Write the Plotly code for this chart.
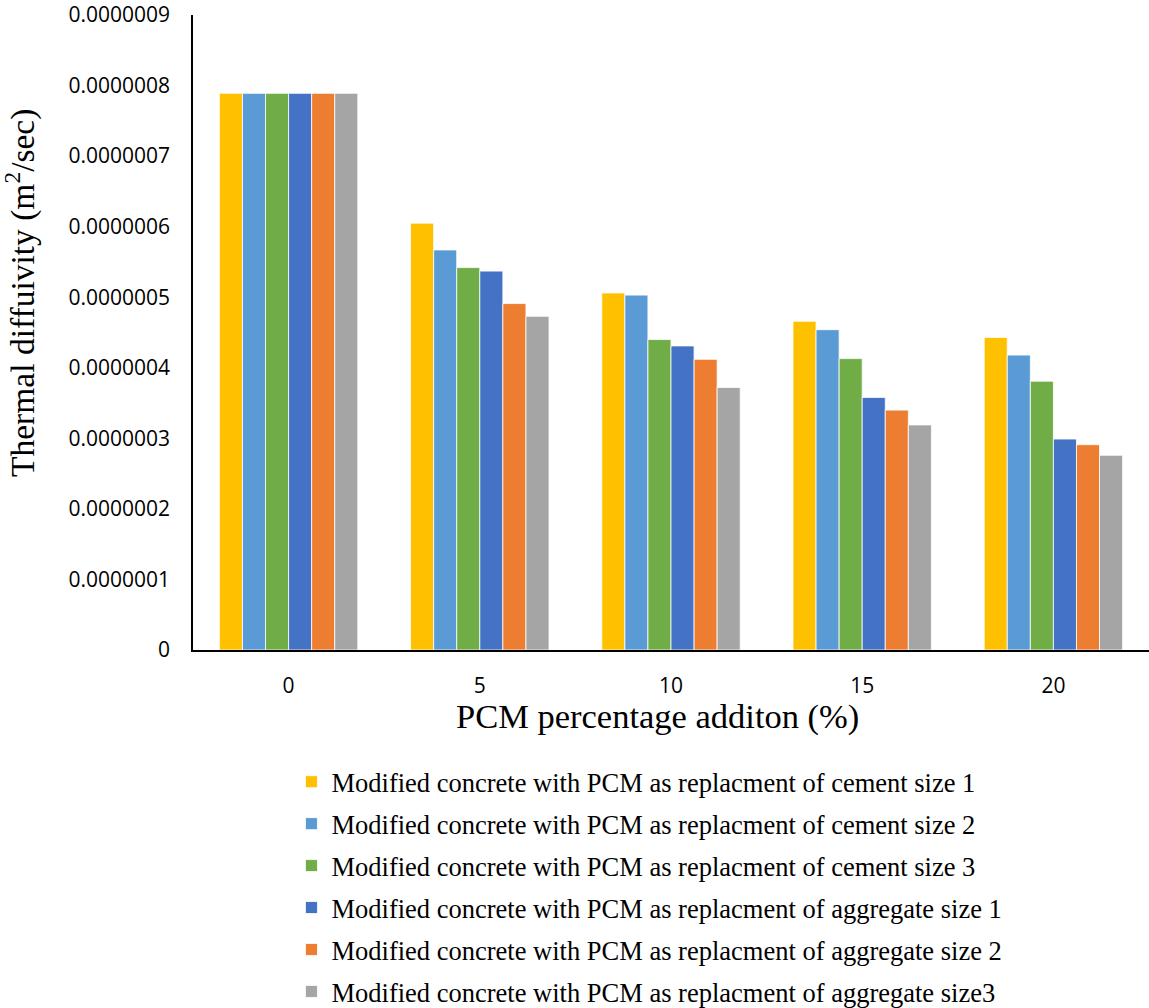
import plotly.graph_objects as go

categories = ["0", "5", "10", "15", "20"]
series_names = [
    "Modified concrete with PCM as replacment of cement size 1",
    "Modified concrete with PCM as replacment of cement size 2",
    "Modified concrete with PCM as replacment of cement size 3",
    "Modified concrete with PCM as replacment of aggregate size 1",
    "Modified concrete with PCM as replacment of aggregate size 2",
    "Modified concrete with PCM as replacment of aggregate size3",
]
cement_1 = [7.89e-7, 6.05e-7, 5.06e-7, 4.66e-7, 4.43e-7]
cement_2 = [7.89e-7, 5.67e-7, 5.03e-7, 4.54e-7, 4.18e-7]
cement_3 = [7.89e-7, 5.42e-7, 4.40e-7, 4.13e-7, 3.81e-7]
aggregate_1 = [7.89e-7, 5.37e-7, 4.31e-7, 3.58e-7, 2.99e-7]
aggregate_2 = [7.89e-7, 4.91e-7, 4.12e-7, 3.40e-7, 2.91e-7]
aggregate_3 = [7.89e-7, 4.73e-7, 3.72e-7, 3.19e-7, 2.76e-7]
colors = ["#FFC000", "#5B9BD5", "#70AD47", "#4472C4", "#ED7D31", "#A5A5A5"]

y_tickvals = [0, 1e-7, 2e-7, 3e-7, 4e-7, 5e-7, 6e-7, 7e-7, 8e-7, 9e-7]
y_ticktext = ["0", "0.0000001", "0.0000002", "0.0000003", "0.0000004",
              "0.0000005", "0.0000006", "0.0000007", "0.0000008", "0.0000009"]
x_title = "PCM percentage additon (%)"
y_title = "Thermal diffuivity (m<sup>2</sup>/sec)"

all_series = [cement_1, cement_2, cement_3, aggregate_1, aggregate_2, aggregate_3]

fig = go.Figure()
for i, (name, vals, col) in enumerate(zip(series_names, all_series, colors)):
    fig.add_trace(go.Bar(
        x=categories, y=vals, name=name, legendgroup=str(i),
        marker=dict(color=col, line=dict(color="white", width=0.8)),
    ))

fig.update_layout(
    width=1149, height=1008,
    paper_bgcolor="white", plot_bgcolor="white",
    margin=dict(l=193, r=0, t=15, b=358, autoexpand=False),
    barmode="group", bargap=0.276, bargroupgap=0,
    showlegend=True,
    legend=dict(
        x=0.103, y=-0.17, xanchor="left", yanchor="top",
        orientation="v", traceorder="grouped",
        font=dict(family="Liberation Serif", size=26.5, color="black"),
        itemwidth=30, tracegroupgap=4.5,
    ),
    xaxis=dict(
        showline=True, linecolor="black", linewidth=1.5,
        showgrid=False, ticks="",
        ticklabelstandoff=16,
        tickfont=dict(family="Open Sans", size=21, color="black"),
    ),
    yaxis=dict(
        range=[0, 9e-7],
        tickvals=y_tickvals, ticktext=y_ticktext,
        showline=True, linecolor="black", linewidth=1.5,
        showgrid=False, ticks="", zeroline=False,
        ticklabelstandoff=17, ticklabeloverflow="allow",
        tickfont=dict(family="Open Sans", size=21, color="black"),
    ),
    annotations=[
        dict(text=x_title, xref="paper", yref="paper", x=0.4854, y=-0.1055,
             xanchor="center", yanchor="middle", showarrow=False,
             font=dict(family="Liberation Serif", size=34.5, color="black")),
        dict(text=y_title, xref="paper", yref="paper", x=-0.181, y=0.5622,
             xanchor="center", yanchor="middle", showarrow=False, textangle=-90,
             font=dict(family="Liberation Serif", size=33.5, color="black")),
    ],
)

fig.write_html(
    "out.html",
    config={"displayModeBar": False},
    post_script="document.body.style.margin='0';document.body.style.overflow='hidden';",
)
